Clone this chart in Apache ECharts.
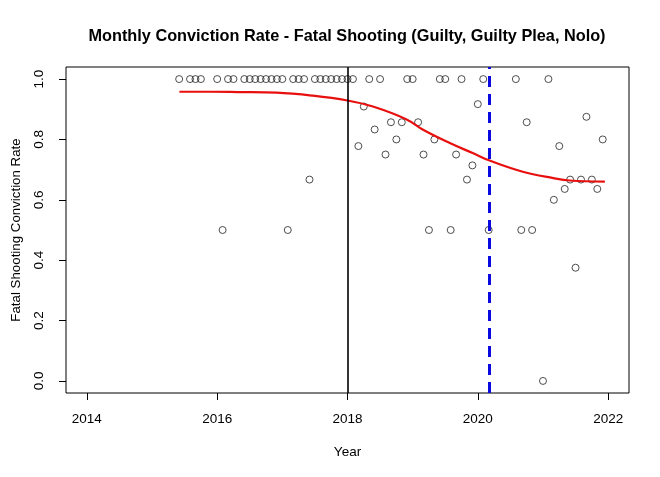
<!DOCTYPE html>
<html>
<head>
<meta charset="utf-8">
<script src="https://cdn.jsdelivr.net/npm/echarts@6/dist/echarts.min.js"></script>
<style>
html,body{margin:0;padding:0;background:#fff;}
#chart{width:660px;height:477px;}
</style>
</head>
<body>
<div id="chart"></div>
<script>
// Monthly observations (year-month) and conviction rate
const months = [
  '2015-06','2015-08','2015-09','2015-10','2016-01','2016-02','2016-03','2016-04',
  '2016-06','2016-07','2016-08','2016-09','2016-10','2016-11','2016-12','2017-01',
  '2017-02','2017-03','2017-04','2017-05','2017-06','2017-07','2017-08','2017-09',
  '2017-10','2017-11','2017-12','2018-01','2018-02','2018-03','2018-04','2018-05',
  '2018-06','2018-07','2018-08','2018-09','2018-10','2018-11','2018-12','2019-01',
  '2019-02','2019-03','2019-04','2019-05','2019-06','2019-07','2019-08','2019-09',
  '2019-10','2019-11','2019-12','2020-01','2020-02','2020-03','2020-08','2020-09',
  '2020-10','2020-11','2021-01','2021-02','2021-03','2021-04','2021-05','2021-06',
  '2021-07','2021-08','2021-09','2021-10','2021-11','2021-12'
];
const rates = [
  1,1,1,1,1,0.5,1,1,
  1,1,1,1,1,1,1,1,
  0.5,1,1,1,0.667,1,1,1,
  1,1,1,1,1,0.778,0.909,1,
  0.833,1,0.75,0.857,0.8,0.857,1,1,
  0.857,0.75,0.5,0.8,1,1,0.5,0.75,
  1,0.667,0.714,0.917,1,0.5,1,0.5,
  0.857,0.5,0,1,0.6,0.778,0.636,0.667,
  0.375,0.667,0.875,0.667,0.636,0.8
];
// Fitted trend (red curve)
const fitYears  = [2015.42, 2015.9, 2016.32, 2016.91, 2017.47, 2018.0, 2018.39, 2018.9, 2019.16, 2019.57, 2019.93, 2020.18, 2020.69, 2021.16, 2021.41, 2021.95];
const fitValues = [0.958, 0.958, 0.957, 0.955, 0.945, 0.929, 0.909, 0.867, 0.832, 0.788, 0.754, 0.730, 0.693, 0.672, 0.664, 0.660];
// Reference lines
const refBlack = 2018.0;
const refBlue = 2020.167;
// Ticks
const xTicks = [2014, 2016, 2018, 2020, 2022];
const yTicks = [0, 0.2, 0.4, 0.6, 0.8, 1.0];

function toYear(s){ const p = s.split('-'); return +p[0] + (+p[1]-1)/12; }

const font = 'Liberation Sans, Arial, sans-serif';
const chart = echarts.init(document.getElementById('chart'), null, {renderer:'canvas'});
chart.setOption({
  animation:false,
  backgroundColor:'#fff',
  title:{
    text:'Monthly Conviction Rate - Fatal Shooting (Guilty, Guilty Plea, Nolo)',
    left:342, top:24, textAlign:'center',
    textStyle:{fontFamily:font, fontSize:16.3, fontWeight:'bold', color:'#000'}
  },
  grid:{left:66, right:31, top:67, bottom:84, outerBoundsMode:'none', containLabel:false,
        show:true, borderColor:'#000', borderWidth:1, backgroundColor:'transparent'},
  xAxis:{
    type:'value', min:2013.68, max:2022.32,
    name:'Year', nameLocation:'middle', nameGap:52,
    nameTextStyle:{fontFamily:font, fontSize:13.5, color:'#000'},
    axisLine:{show:false, onZero:false},
    splitLine:{show:false},
    axisTick:{show:true, customValues:xTicks, length:7, lineStyle:{color:'#000'}},
    axisLabel:{customValues:xTicks, margin:19, fontFamily:font, fontSize:13.5, color:'#000', formatter:v=>String(v)}
  },
  yAxis:{
    type:'value', min:-0.04, max:1.04,
    name:'Fatal Shooting Conviction Rate', nameLocation:'middle', nameGap:43, nameRotate:90,
    nameTextStyle:{fontFamily:font, fontSize:13.3, color:'#000'},
    axisLine:{show:false, onZero:false},
    splitLine:{show:false},
    axisTick:{show:true, customValues:yTicks, length:7, lineStyle:{color:'#000'}},
    axisLabel:{customValues:yTicks, rotate:90, margin:20, fontFamily:font, fontSize:13.5, color:'#000', formatter:v=>v.toFixed(1)}
  },
  series:[
    {
      type:'scatter',
      data: months.map((m,i)=>[toYear(m), rates[i]]),
      symbol:'circle', symbolSize:7,
      itemStyle:{color:'rgba(0,0,0,0)', borderColor:'#222', borderWidth:1},
      z:3
    },
    {
      type:'line',
      data: fitYears.map((y,i)=>[y, fitValues[i]]),
      smooth:0.4, showSymbol:false,
      lineStyle:{color:'#e8100f', width:2.2},
      z:4,
      markLine:{
        silent:true, symbol:['none','none'], label:{show:false},
        data:[
          {xAxis:refBlack, lineStyle:{color:'#000', width:1.6, type:'solid'}},
          {xAxis:refBlue, lineStyle:{color:'#0a0ae0', width:3, type:[11,7]}}
        ]
      }
    }
  ]
});
</script>
</body>
</html>
